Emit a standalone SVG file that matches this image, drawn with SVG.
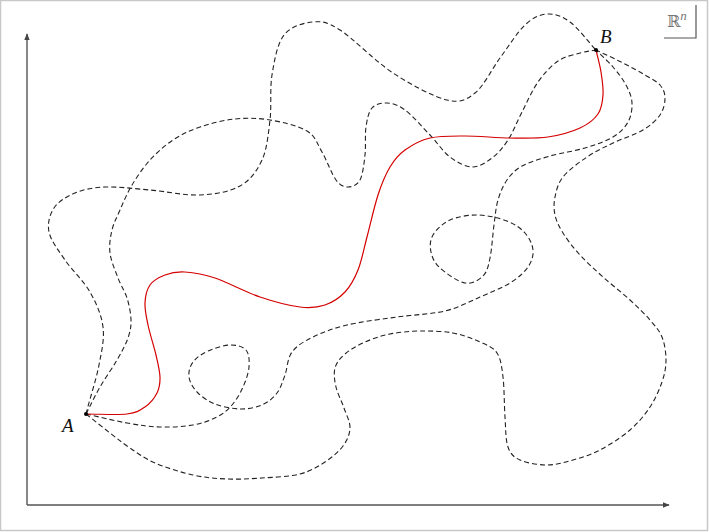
<svg xmlns="http://www.w3.org/2000/svg" width="709" height="532" viewBox="0 0 709 532">
<defs>
<marker id="arr" viewBox="0 0 10 10" refX="9" refY="5" markerWidth="7" markerHeight="7" orient="auto" markerUnits="userSpaceOnUse">
<path d="M0,1 L10,5 L0,9 Z" fill="#444"/>
</marker>
<style>
.dash{fill:none;stroke:#222;stroke-width:1.1;stroke-dasharray:5 3}
.red{fill:none;stroke:#d40000;stroke-width:1.2}
.axis{fill:none;stroke:#555;stroke-width:1.4}
.lbl{font-family:"Liberation Serif","DejaVu Serif",serif;font-style:italic;font-size:19px;fill:#111}
</style>
</defs>
<rect x="0.5" y="0.5" width="707" height="530" fill="#fff" stroke="#c8c8c8" stroke-width="1.5"/>
<g id="axes">
<line class="axis" x1="27" y1="505" x2="27" y2="34" marker-end="url(#arr)"/>
<line class="axis" x1="27" y1="505" x2="669" y2="505" marker-end="url(#arr)"/>
</g>
<g id="space-label">
<path d="M664,38 H696 V5" fill="none" stroke="#555" stroke-width="1.2"/>
<text x="667" y="27" font-family="'DejaVu Serif',serif" font-size="16" fill="#777">ℝ<tspan font-family="'Liberation Serif',serif" font-style="italic" font-size="13" dy="-7">n</tspan></text>
</g>
<g id="connectors">
<path id="path1" class="dash" d="M86,414 C94,420.3 102.7,427.3 110,433 S122.5,443 130,448 S144.5,458.5 155,463 S181,472.3 193,475 S215.5,478.5 227,479 S249.8,478.8 262,478 S289.5,476.7 300,474 S317.8,466.7 325,462 S338.8,451.7 343,446 S349.8,434.3 350,428 S346.3,414.8 344,408 S337.5,393.7 336,387 S333.5,373.5 335,368 S340,358.3 345,354 S357.5,345.3 365,342 S380.8,335.8 390,334 S409.5,331.2 420,331 S443,331.2 453,333 S472.7,338.7 480,342 S493.2,347.2 497,353 S501.7,366.3 503,377 S504.2,405.3 505,417 S505.5,439.8 508,447 S513.5,457 520,460 S538.2,465 547,465 S564.2,462.5 573,460 S590.5,455 600,450 S621.7,437.2 630,430 S644.7,415 650,407 S659.3,389.8 662,382 S666,367.5 666,360 S664.7,343.7 662,337 S655.3,326.2 650,320 S637.8,307.2 630,300 S611.3,284.5 603,277 S586.7,262.3 580,255 S567.2,239.7 563,233 S556.3,221 555,215 S553.7,203.3 555,197 S557.7,183.7 563,177 S578.7,162.7 587,157 S603.7,147.5 613,143 S635.2,134.7 643,130 S656.3,120.3 660,115 S665,103 665,98 S663.3,88.8 660,85 S651.2,78.7 645,75 S631.2,67.2 623,63 S605,54.3 596,50"/>
<path id="path2" class="dash" d="M86,414 C99.7,417 114.7,420.8 127,423 S149,426.7 160,427 S183.5,426.7 193,425 S210.5,420.3 217,417 S227.7,410 232,405 S240.2,393.3 243,387 S248.5,373.2 249,367 S249.2,353.7 246,350 S236.3,344.8 230,345 S214.2,348.2 208,351 S196.2,357.7 193,362 S188.3,372 189,377 S192.7,387.5 197,392 S207.8,401.2 215,404 S232.2,408.8 240,409 S255.8,407.7 262,405 S273.2,398 277,393 S282.5,381.8 285,375 S287.3,358.3 292,352 S303.8,341.5 313,337 S333,328.3 347,325 S380.7,319.3 397,317 S431.2,314.3 445,311 S469.2,301.7 480,297 S502,288 510,283 S524.2,272.5 528,267 S533.5,255.7 533,250 S529.3,237.8 525,233 S514.8,224 507,221 S487.5,215.2 478,215 S457.5,216.7 450,220 S436.2,229.7 433,235 S429.8,246.5 431,252 S434.3,262.8 440,268 S457.8,281.7 465,283 S478.8,280.2 483,276 S488.2,266.5 490,258 S492.7,234.7 494,225 S495.8,207.5 498,200 S503,185.7 507,180 S514.8,170 522,166 S539.5,159 550,156 S574.5,151.2 585,148 S605.8,141.3 613,137 S624.8,127.7 628,122 S632.3,109.2 632,103 S629.2,91 626,85 S618,72.8 613,67 S601.7,55.7 596,50"/>
<path id="path4" class="dash" d="M86,414 C90.7,405 94.8,396 100,387 S112.3,368.2 117,360 S125.7,344.7 128,338 S131.2,326.7 131,320 S129.2,305 127,298 S120.8,285.5 118,278 S111,261 110,253 S110.3,237.2 112,230 S116.7,217.5 120,210 S127,193.3 132,185 S143.2,167.5 150,160 S164.7,145.5 173,140 S189.7,130.5 200,127 S223.3,120.2 235,119 S258,118 270,120 S298.3,125.7 307,131 S317.2,143.8 322,152 S331.7,174.2 336,180 S344,187 348,187 S357.2,185.3 360,180 S364,163.8 365,155 S364.8,134.8 366,127 S368.5,112 372,108 S381.5,102.7 387,103 S397.8,104.7 405,110 S422.5,127.2 430,135 S443,151.7 450,157 S465,166.8 472,167 S486,162.5 492,158 S503,147.7 508,140 S517,121.7 522,112 S532,90.5 538,82 S551,65.8 558,61 S573.7,54.8 580,53 S590.7,51 596,50"/>
<path id="path5" class="dash" d="M86,414 C90,398 96.2,379.5 99,365 S104.5,339.2 103,327 S96.3,303.2 90,292 S71.8,270 65,260 S50.8,240.7 49,232 S49.7,214.5 54,208 S66.5,196.5 75,193 S92.5,187.5 105,187 S134.2,188.7 150,190 S185,195.7 200,195 S229.7,191.8 240,186 S257,171 262,160 S268.3,134.2 270,120 S269.7,89.2 272,75 S277.2,43.8 284,35 S303.7,22.8 313,22 S326.7,21.5 340,30 S375.2,61.3 393,73 S433.3,96.7 447,100 S466.2,100 475,93 S491.7,69.3 500,58 S517.2,32.3 525,25 S539.5,14.5 547,14 S561.8,16 570,22 S587.3,40.7 596,50"/>
<path id="path3" class="red" d="M86,414 C99.7,414 117.2,415.2 127,414 S140,410.5 145,407 S154.5,398 157,393 S160.2,383.3 160,377 S158,363.7 156,355 S149.8,333.7 148,325 S144.7,309.7 145,303 S146.7,289.7 150,285 S159.2,277.2 165,275 S176.7,271.5 185,272 S202.5,273.8 215,278 S245.8,292.2 260,297 S289.2,305.7 300,307 S317.5,307.5 325,305 S339.5,297.8 345,292 S354.3,279.2 358,270 S363.7,249.5 367,237 S374.2,206.7 378,195 S385.5,174.5 390,167 S398.3,154.8 405,150 S420,140.3 430,138 S451.7,136 465,136 S496.2,137.8 510,138 S536.3,138.7 548,137 S571.7,131.8 580,128 S594.2,119.5 598,114 S602.5,102 603,95 S602.2,79.5 601,72 S597.7,57.3 596,50"/>
</g>
<g id="nodeA">
<circle cx="86" cy="414" r="2" fill="#000"/>
<text class="lbl" x="62" y="432">A</text>
</g>
<g id="nodeB">
<circle cx="596" cy="50" r="2" fill="#000"/>
<text class="lbl" x="600" y="43">B</text>
</g>
</svg>
